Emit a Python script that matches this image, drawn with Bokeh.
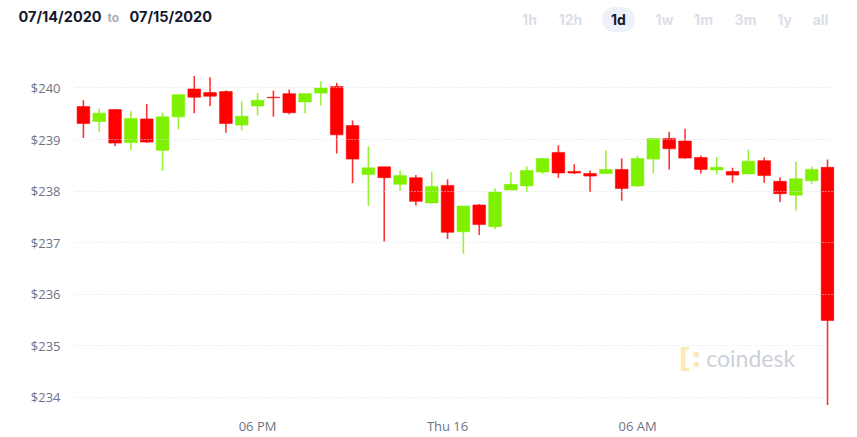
import numpy as np
from bokeh.plotting import figure
from bokeh.layouts import column
from bokeh.models import Label, FixedTicker, NumeralTickFormatter, Range1d, ColumnDataSource
from bokeh.embed import file_html
from bokeh.resources import INLINE

# 30-minute candles, hours after 07/15 12:00
times = np.arange(0.5, 24.01, 0.5)
opens = [239.64, 239.35, 239.58, 238.94, 239.40, 238.79, 239.44, 239.98, 239.91, 239.93,
         239.28, 239.65, 239.82, 239.89, 239.73, 239.90, 240.03, 239.27, 238.32, 238.47,
         238.13, 238.26, 237.77, 238.11, 237.21, 237.73, 237.31, 238.02, 238.10, 238.37,
         238.75, 238.38, 238.34, 238.34, 238.42, 238.10, 238.62, 239.02, 238.97, 238.65,
         238.41, 238.38, 238.33, 238.59, 238.19, 237.92, 238.20, 238.46]
highs = [239.76, 239.60, 239.59, 239.55, 239.69, 239.52, 239.88, 240.23, 240.21, 239.95,
         239.74, 239.90, 239.95, 239.97, 239.89, 240.13, 240.10, 239.37, 238.87, 238.47,
         238.40, 238.31, 238.38, 238.23, 237.71, 237.75, 238.05, 238.37, 238.48, 238.64,
         238.89, 238.52, 238.40, 238.79, 238.63, 238.68, 239.03, 239.15, 239.21, 238.69,
         238.66, 238.45, 238.80, 238.65, 238.27, 238.57, 238.47, 238.61]
lows = [239.03, 239.15, 238.87, 238.79, 238.93, 238.39, 239.20, 239.51, 239.65, 239.13,
        239.18, 239.47, 239.44, 239.49, 239.51, 239.66, 238.73, 238.15, 237.71, 237.02,
        238.00, 237.72, 237.77, 237.07, 236.79, 237.15, 237.26, 238.02, 237.98, 238.33,
        238.26, 238.33, 237.98, 238.34, 237.81, 238.08, 238.34, 238.42, 238.62, 238.34,
        238.32, 238.16, 238.33, 238.16, 237.79, 237.62, 238.13, 233.85]
closes = [239.31, 239.51, 238.93, 239.41, 238.95, 239.44, 239.87, 239.82, 239.84, 239.31,
          239.45, 239.76, 239.81, 239.52, 239.89, 240.00, 239.09, 238.62, 238.45, 238.26,
          238.30, 237.80, 238.09, 237.20, 237.71, 237.35, 237.98, 238.13, 238.40, 238.63,
          238.35, 238.35, 238.29, 238.42, 238.05, 238.63, 239.02, 238.82, 238.64, 238.42,
          238.46, 238.31, 238.58, 238.30, 237.95, 238.24, 238.42, 235.49]

x_ticks = [6, 12, 18]
x_tick_labels = ["06 PM", "Thu 16", "06 AM"]
y_ticks = [234, 235, 236, 237, 238, 239, 240]
range_buttons = ["1h", "12h", "1d", "1w", "1m", "3m", "1y", "all"]
active_button = "1d"
date_from = "07/14/2020"
date_to = "07/15/2020"

UP = "#7ef000"
DOWN = "#ff0000"

FRAME_L, FRAME_R = 75, 834

# ---------- header strip (x in page pixels) ----------
HDR_H = 40
hdr = figure(width=857, height=HDR_H, output_backend="svg", toolbar_location=None,
             x_range=Range1d(0, 857), y_range=Range1d(HDR_H, 0),
             min_border_left=0, min_border_right=0,
             min_border_top=0, min_border_bottom=0)
hdr.frame_align = False
hdr.axis.visible = False
hdr.grid.visible = False
hdr.outline_line_color = None
hdr.border_fill_color = "white"

hdr.add_layout(Label(x=18, y=16, text=date_from, text_font="Inter", text_font_style="bold",
                     text_font_size="14.5px", text_color="#14192d", text_baseline="middle",
                     text_align="left"))
hdr.add_layout(Label(x=107, y=17, text="to", text_font="Inter", text_font_style="bold",
                     text_font_size="12px", text_color="#a9acb9", text_baseline="middle",
                     text_align="left"))
hdr.add_layout(Label(x=129, y=16, text=date_to, text_font="Inter", text_font_style="bold",
                     text_font_size="14.5px", text_color="#14192d", text_baseline="middle",
                     text_align="left"))

btn_x = [529, 570, 618, 664, 703, 745, 784, 820]
for bx, name in zip(btn_x, range_buttons):
    active = name == active_button
    kw = {}
    if active:
        kw = dict(background_fill_color="#eef2f8", padding=[9, 4], border_radius=12)
    hdr.add_layout(Label(x=bx, y=19, text=name, text_font="Inter", text_font_style="bold",
                         text_font_size="14px",
                         text_color="#14192d" if active else "#dcdee9",
                         text_baseline="middle", text_align="center", **kw))

# ---------- candlestick chart ----------
colors = [UP if c >= o else DOWN for o, c in zip(opens, closes)]
src = ColumnDataSource(dict(
    t=list(times), o=opens, h=highs, l=lows, c=closes,
    top=[max(o, c) for o, c in zip(opens, closes)],
    bot=[min(o, c) for o, c in zip(opens, closes)],
    color=colors,
))

p = figure(width=857, height=437 - HDR_H, output_backend="svg", toolbar_location=None,
           x_range=Range1d(0.25, 24.22), y_range=Range1d(233.84, 240.30),
           min_border_left=FRAME_L, min_border_right=857 - FRAME_R, min_border_top=72 - HDR_H,
           min_border_bottom=31)
p.frame_align = False
p.outline_line_color = None
p.background_fill_color = "white"
p.border_fill_color = "white"

p.segment(x0="t", y0="l", x1="t", y1="h", source=src, line_color="color",
          line_width=1.6, line_alpha=0.8)
p.vbar(x="t", top="top", bottom="bot", width=0.4, source=src, fill_color="color",
       line_color="color", line_alpha=0.55, line_width=1)

p.xaxis.ticker = FixedTicker(ticks=x_ticks)
p.xaxis.major_label_overrides = {t: s for t, s in zip(x_ticks, x_tick_labels)}
p.yaxis.ticker = FixedTicker(ticks=y_ticks)
p.yaxis.formatter = NumeralTickFormatter(format="$0")
for ax in (p.xaxis, p.yaxis):
    ax.axis_line_color = None
    ax.major_tick_line_color = None
    ax.minor_tick_line_color = None
    ax.major_label_text_color = "#6f7485"
    ax.major_label_text_font = "Open Sans"
    ax.major_label_text_font_size = "13px"
p.xaxis.major_label_standoff = 5
p.yaxis.major_label_standoff = 9

p.xgrid.grid_line_color = None
p.ygrid.ticker = FixedTicker(ticks=y_ticks)
p.ygrid.grid_line_color = "#dfe1ea"
p.ygrid.grid_line_dash = "1 2"
p.ygrid.grid_line_width = 1
p.ygrid.level = "overlay"

# watermark
p.add_layout(Label(x=19.3, y=234.77, text="[:", text_font="DejaVu Sans", text_font_style="bold",
                   text_font_size="27px", text_color="#fbe9b8", text_baseline="middle",
                   text_align="left"))
p.add_layout(Label(x=20.17, y=234.77, text="coindesk", text_font="Lato",
                   text_font_size="23px", text_color="#cdd0da", text_baseline="middle",
                   text_align="left"))

layout = column(hdr, p, spacing=0)
open("out.html", "w").write(file_html(layout, INLINE))
